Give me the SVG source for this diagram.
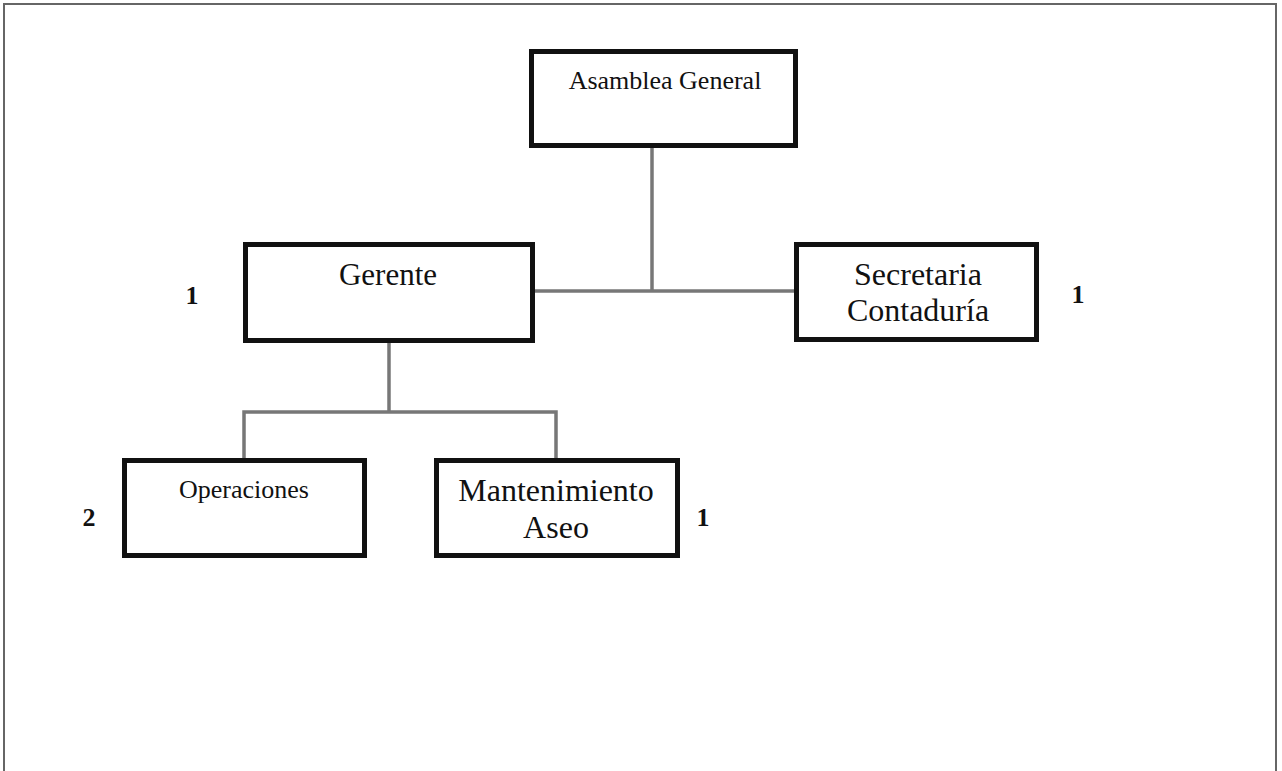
<svg xmlns="http://www.w3.org/2000/svg" width="1282" height="771" viewBox="0 0 1282 771">
<style>
.box{fill:#fff;stroke:#111;stroke-width:5}
.lbl{font-family:"Liberation Serif","Times New Roman",serif;fill:#111;text-anchor:middle}
.num{font-family:"Liberation Serif","Times New Roman",serif;font-weight:bold;font-size:26px;fill:#111;text-anchor:middle}
.con{fill:none;stroke:#777;stroke-width:3.5}
</style>
<rect width="1282" height="771" fill="#fff"/>
<path d="M4,771 V4 H1276 V771" fill="none" stroke="#666" stroke-width="2"/>
<g id="connectors">
<path class="con" d="M652,148 V291"/>
<path class="con" d="M535,291 H794"/>
<path class="con" d="M389,343 V412"/>
<path class="con" d="M244,458 V412 H556 V458"/>
</g>
<g id="asamblea">
<rect class="box" x="531.5" y="51.5" width="264" height="94"/>
<text class="lbl" x="665" y="89" font-size="26">Asamblea General</text>
</g>
<g id="gerente">
<rect class="box" x="245.5" y="244.5" width="287" height="96"/>
<text class="lbl" x="388" y="285" font-size="31">Gerente</text>
<text class="num" x="192" y="304">1</text>
</g>
<g id="secretaria">
<rect class="box" x="796.5" y="244.5" width="240" height="95"/>
<text class="lbl" x="918" y="285" font-size="32">Secretaria</text>
<text class="lbl" x="918" y="321" font-size="32">Contaduría</text>
<text class="num" x="1078" y="303">1</text>
</g>
<g id="operaciones">
<rect class="box" x="124.5" y="460.5" width="240" height="95"/>
<text class="lbl" x="244" y="498" font-size="26">Operaciones</text>
<text class="num" x="89" y="526">2</text>
</g>
<g id="mantenimiento">
<rect class="box" x="436.5" y="460.5" width="241" height="95"/>
<text class="lbl" x="556" y="501" font-size="32">Mantenimiento</text>
<text class="lbl" x="556" y="538" font-size="32">Aseo</text>
<text class="num" x="703" y="526">1</text>
</g>
</svg>
